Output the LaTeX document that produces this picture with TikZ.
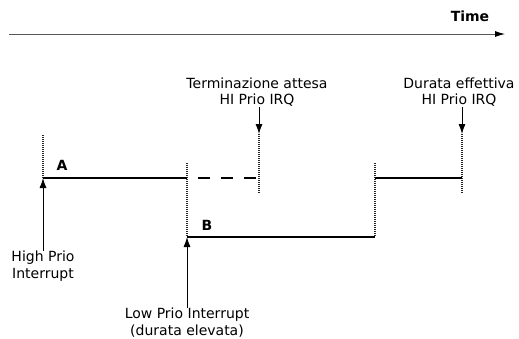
\documentclass[tikz,border=0pt]{standalone}
\usepackage{fontspec}
\setmainfont{DejaVu Sans}
\usetikzlibrary{arrows.meta, positioning}

\begin{document}
\begin{tikzpicture}[x=1pt, y=-1pt,
    note/.style={align=center, inner sep=0pt, font=\fontsize{14}{16.5}\selectfont},
    tag/.style={inner sep=0pt, font=\fontsize{14}{16.5}\selectfont\bfseries},
    run/.style={line width=1.9pt},
    wait/.style={line width=1.9pt, dash pattern=on 12pt off 11pt, dash phase=12pt},
    bound/.style={line width=1.8pt, dash pattern=on 1pt off 1pt, black!85},
    arr/.style={-{Latex[length=10pt,width=7pt]}, line width=0.9pt},
    axis/.style={black!65, line width=0.9pt, -{Latex[length=10pt,width=6pt,black]}}]
\useasboundingbox (0,0) rectangle (519,338);

% time axis
\coordinate (t0) at (9,34);
\coordinate (t1) at (505,34);
\draw[axis] (t0) -- (t1);
\node[tag, anchor=base] (time) at (470,21) {Time};

% task A, B and the wait
\coordinate (a0) at (43,178);
\coordinate (a1) at (187,178);
\coordinate (aw) at (259,178);
\coordinate (a2) at (375,178);
\coordinate (a3) at (462,178);
\coordinate (b0) at (187,237);
\coordinate (b1) at (375,237);

\draw[bound] (43,135) -- (a0);
\draw[bound] (187,163) -- (b0);
\draw[bound] (259,134) -- (259,193);
\draw[bound] (375,163) -- (b1);
\draw[bound] (462,134) -- (462,193);

\draw[run] (a0) -- (a1);
\draw[wait] (a1) -- (aw);
\draw[run] (b0) -- (b1);
\draw[run] (a2) -- (a3);

\node[tag, anchor=base] (ta) at (62,170) {A};
\node[tag, anchor=base] (tb) at (207,230) {B};

% labels
\coordinate (wtop) at (259,134);
\coordinate (etop) at (462,134);
\node[note, above=27pt of wtop, xshift=-2pt] (term) {Terminazione attesa\\HI Prio IRQ};
\node[note, above=27pt of etop, xshift=-3pt] (eff) {Durata effettiva\\HI Prio IRQ};
\draw[arr] (term.south -| wtop) -- (wtop);
\draw[arr] (eff.south -| etop) -- (etop);

\node[note, below=14pt of a0, yshift=-59pt] (high) {High Prio\\Interrupt};
\node[note, below=14pt of b0, yshift=-57pt] (low) {Low Prio Interrupt\\(durata elevata)};
\draw[arr] (high) -- (a0);
\draw[arr] (low) -- (b0);
\end{tikzpicture}
\end{document}
